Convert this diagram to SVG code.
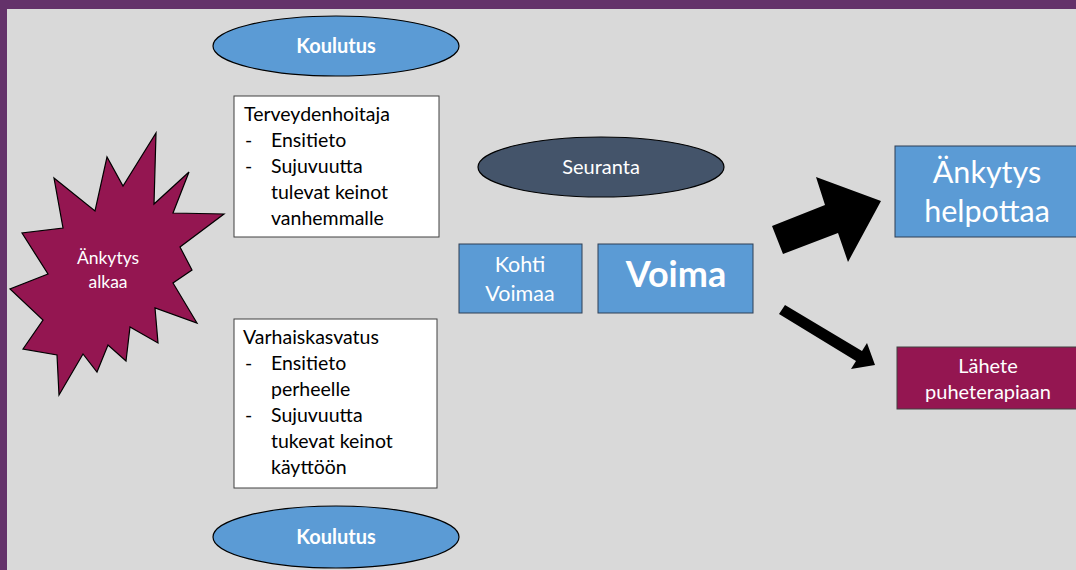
<svg xmlns="http://www.w3.org/2000/svg" width="1076" height="570" viewBox="0 0 1076 570">
<style>
.t{font-family:Lato,"Liberation Sans",sans-serif;}
.box{fill:#ffffff;stroke:#404040;stroke-width:1;}
.blue{fill:#5b9bd5;stroke:#2e3f55;stroke-width:1;}
.ell{fill:#5b9bd5;stroke:#000;stroke-width:1.2;}
.w{fill:#ffffff;text-anchor:middle;}
.k{fill:#000000;font-size:19.5px;}
</style>
<rect x="0" y="0" width="1076" height="570" fill="#64326a"/>
<rect x="7" y="9" width="1069" height="561" fill="#d9d9d9"/>
<g id="koulutus-top">
<ellipse class="ell" cx="336" cy="46" rx="123" ry="30"/>
<text class="t w" x="336" y="53" font-size="20" font-weight="bold">Koulutus</text>
</g>
<g id="koulutus-bottom">
<ellipse class="ell" cx="336" cy="537" rx="123" ry="31"/>
<text class="t w" x="336" y="544" font-size="20" font-weight="bold">Koulutus</text>
</g>
<g id="ankytys-alkaa">
<polygon points="156,133 154,204 189,172 173,213 224,214 180,247 192,270 173,283 197,323 155,308 158,343 130,327 126,361 108,345 97,372 83,354 59,395 57,355 23,349 43,320 10,289 48,274 22,233 63,228 54,178 95,211 107,157 123,186" fill="#941651" stroke="#000" stroke-width="1.2"/>
<text class="t w" x="108" y="264" font-size="17.5">Änkytys</text>
<text class="t w" x="108" y="288" font-size="17.5">alkaa</text>
</g>
<g id="terveydenhoitaja">
<rect class="box" x="234" y="96" width="205" height="141"/>
<text class="t k" x="244" y="121">Terveydenhoitaja</text>
<text class="t k" x="245" y="147">-</text>
<text class="t k" x="271" y="147">Ensitieto</text>
<text class="t k" x="245" y="173">-</text>
<text class="t k" x="271" y="173">Sujuvuutta</text>
<text class="t k" x="271" y="199">tulevat keinot</text>
<text class="t k" x="271" y="225">vanhemmalle</text>
</g>
<g id="varhaiskasvatus">
<rect class="box" x="234" y="319" width="203" height="169"/>
<text class="t k" x="243" y="344">Varhaiskasvatus</text>
<text class="t k" x="245" y="370">-</text>
<text class="t k" x="271" y="370">Ensitieto</text>
<text class="t k" x="271" y="396">perheelle</text>
<text class="t k" x="245" y="422">-</text>
<text class="t k" x="271" y="422">Sujuvuutta</text>
<text class="t k" x="271" y="448">tukevat keinot</text>
<text class="t k" x="271" y="474">käyttöön</text>
</g>
<g id="seuranta">
<ellipse cx="601" cy="167" rx="123" ry="30" fill="#44546a" stroke="#000" stroke-width="1.2"/>
<text class="t w" x="601" y="174" font-size="20">Seuranta</text>
</g>
<g id="kohti-voimaa">
<rect class="blue" x="459" y="244" width="123" height="69"/>
<text class="t w" x="520" y="272" font-size="21.5">Kohti</text>
<text class="t w" x="520" y="301" font-size="21.5">Voimaa</text>
</g>
<g id="voima">
<rect class="blue" x="598" y="244" width="155" height="69"/>
<text class="t w" x="676" y="287" font-size="36" font-weight="bold">Voima</text>
</g>
<g id="ankytys-helpottaa">
<rect class="blue" x="895" y="146" width="182" height="91"/>
<text class="t w" x="987" y="183" font-size="30.5">Änkytys</text>
<text class="t w" x="987" y="222" font-size="30.5">helpottaa</text>
</g>
<g id="lahete">
<rect x="897" y="347" width="180" height="62" fill="#941651" stroke="#404040" stroke-width="1"/>
<text class="t w" x="988" y="373" font-size="20">Lähete</text>
<text class="t w" x="988" y="399" font-size="20">puheterapiaan</text>
</g>
<g id="connectors">
<polygon points="772,226 825,205 816,177 881,201 848,262 838,233 783,254" fill="#000"/>
<polygon points="785,305 779,314 856,361 851,369 875,365 867,343 862,351" fill="#000"/>
</g>
</svg>
